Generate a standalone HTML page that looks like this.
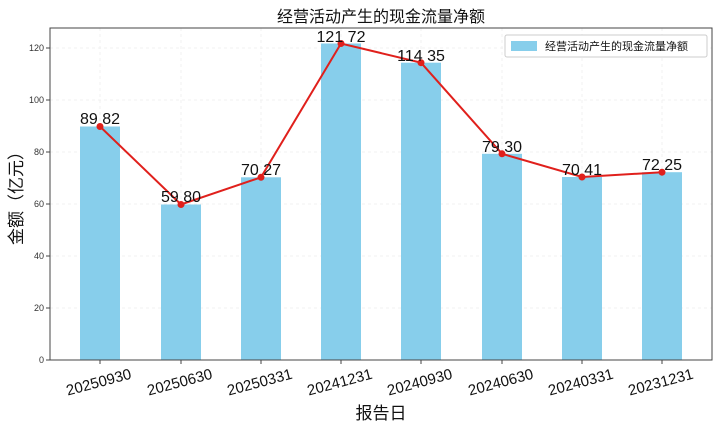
<!DOCTYPE html>
<html><head><meta charset="utf-8"><style>body{margin:0;background:#fff}</style></head><body>
<svg width="720" height="428" xmlns="http://www.w3.org/2000/svg" font-family="Liberation Sans, Noto Sans CJK SC, sans-serif">
<rect width="720" height="428" fill="#fff"/>
<g stroke="#eee" stroke-dasharray="3,3" stroke-width="0.8">
<line x1="50" x2="712" y1="308" y2="308"/><line x1="50" x2="712" y1="256" y2="256"/><line x1="50" x2="712" y1="204" y2="204"/><line x1="50" x2="712" y1="152" y2="152"/><line x1="50" x2="712" y1="100" y2="100"/><line x1="50" x2="712" y1="48" y2="48"/>
<line x1="100" x2="100" y1="28" y2="360"/><line x1="181" x2="181" y1="28" y2="360"/><line x1="261" x2="261" y1="28" y2="360"/><line x1="341" x2="341" y1="28" y2="360"/><line x1="421" x2="421" y1="28" y2="360"/><line x1="502" x2="502" y1="28" y2="360"/><line x1="582" x2="582" y1="28" y2="360"/><line x1="662" x2="662" y1="28" y2="360"/>
</g>
<g fill="#87ceeb">
<rect x="80" y="126.5" width="40" height="233.5"/>
<rect x="161" y="204.5" width="40" height="155.5"/>
<rect x="241" y="177.3" width="40" height="182.7"/>
<rect x="321" y="43.5" width="40" height="316.5"/>
<rect x="401" y="62.7" width="40" height="297.3"/>
<rect x="482" y="153.8" width="40" height="206.2"/>
<rect x="562" y="177" width="40" height="183"/>
<rect x="642" y="172.2" width="40" height="187.8"/>
</g>
<polyline fill="none" stroke="#e0201c" stroke-width="2" points="100,126.5 181,204.5 261,177.3 341,43.5 421,62.7 502,153.8 582,177 662,172.2"/>
<g fill="#e0201c"><circle cx="100" cy="126.5" r="3.5"/><circle cx="181" cy="204.5" r="3.5"/><circle cx="261" cy="177.3" r="3.5"/><circle cx="341" cy="43.5" r="3.5"/><circle cx="421" cy="62.7" r="3.5"/><circle cx="502" cy="153.8" r="3.5"/><circle cx="582" cy="177" r="3.5"/><circle cx="662" cy="172.2" r="3.5"/></g>
<rect x="50" y="28" width="662" height="332" fill="none" stroke="#444" stroke-width="1"/>
<g font-size="16" fill="#111" text-anchor="middle">
<text x="100" y="124">89 82</text><text x="181" y="202">59 80</text><text x="261" y="175">70 27</text><text x="341" y="42">121 72</text><text x="421" y="61">114 35</text><text x="502" y="152">79 30</text><text x="582" y="175">70 41</text><text x="662" y="170">72 25</text>
</g>
<g font-size="9" fill="#333" text-anchor="end">
<text x="44" y="363">0</text><text x="44" y="311">20</text><text x="44" y="259">40</text><text x="44" y="207">60</text><text x="44" y="155">80</text><text x="44" y="103">100</text><text x="44" y="51">120</text>
</g>
<g stroke="#444"><line x1="46" x2="50" y1="360" y2="360"/><line x1="46" x2="50" y1="308" y2="308"/><line x1="46" x2="50" y1="256" y2="256"/><line x1="46" x2="50" y1="204" y2="204"/><line x1="46" x2="50" y1="152" y2="152"/><line x1="46" x2="50" y1="100" y2="100"/><line x1="46" x2="50" y1="48" y2="48"/>
<line x1="100" x2="100" y1="360" y2="364"/><line x1="181" x2="181" y1="360" y2="364"/><line x1="261" x2="261" y1="360" y2="364"/><line x1="341" x2="341" y1="360" y2="364"/><line x1="421" x2="421" y1="360" y2="364"/><line x1="502" x2="502" y1="360" y2="364"/><line x1="582" x2="582" y1="360" y2="364"/><line x1="662" x2="662" y1="360" y2="364"/></g>
<g font-size="15" fill="#111" text-anchor="middle">
<text transform="translate(100,387) rotate(-15)">20250930</text>
<text transform="translate(181,387) rotate(-15)">20250630</text>
<text transform="translate(261,387) rotate(-15)">20250331</text>
<text transform="translate(341,387) rotate(-15)">20241231</text>
<text transform="translate(421,387) rotate(-15)">20240930</text>
<text transform="translate(502,387) rotate(-15)">20240630</text>
<text transform="translate(582,387) rotate(-15)">20240331</text>
<text transform="translate(662,387) rotate(-15)">20231231</text>
</g>
<text x="381" y="419" font-size="17" text-anchor="middle" fill="#111">报告日</text>
<text transform="translate(22,194) rotate(-90)" font-size="17" text-anchor="middle" fill="#111">金额（亿元）</text>
<text x="381" y="22" font-size="16" text-anchor="middle" fill="#111">经营活动产生的现金流量净额</text>
<rect x="505" y="35" width="202" height="22" fill="#fff" stroke="#ccc" rx="2"/>
<rect x="511" y="41" width="26" height="10" fill="#87ceeb"/>
<text x="545" y="50" font-size="11" fill="#111">经营活动产生的现金流量净额</text>
</svg>
</body></html>
